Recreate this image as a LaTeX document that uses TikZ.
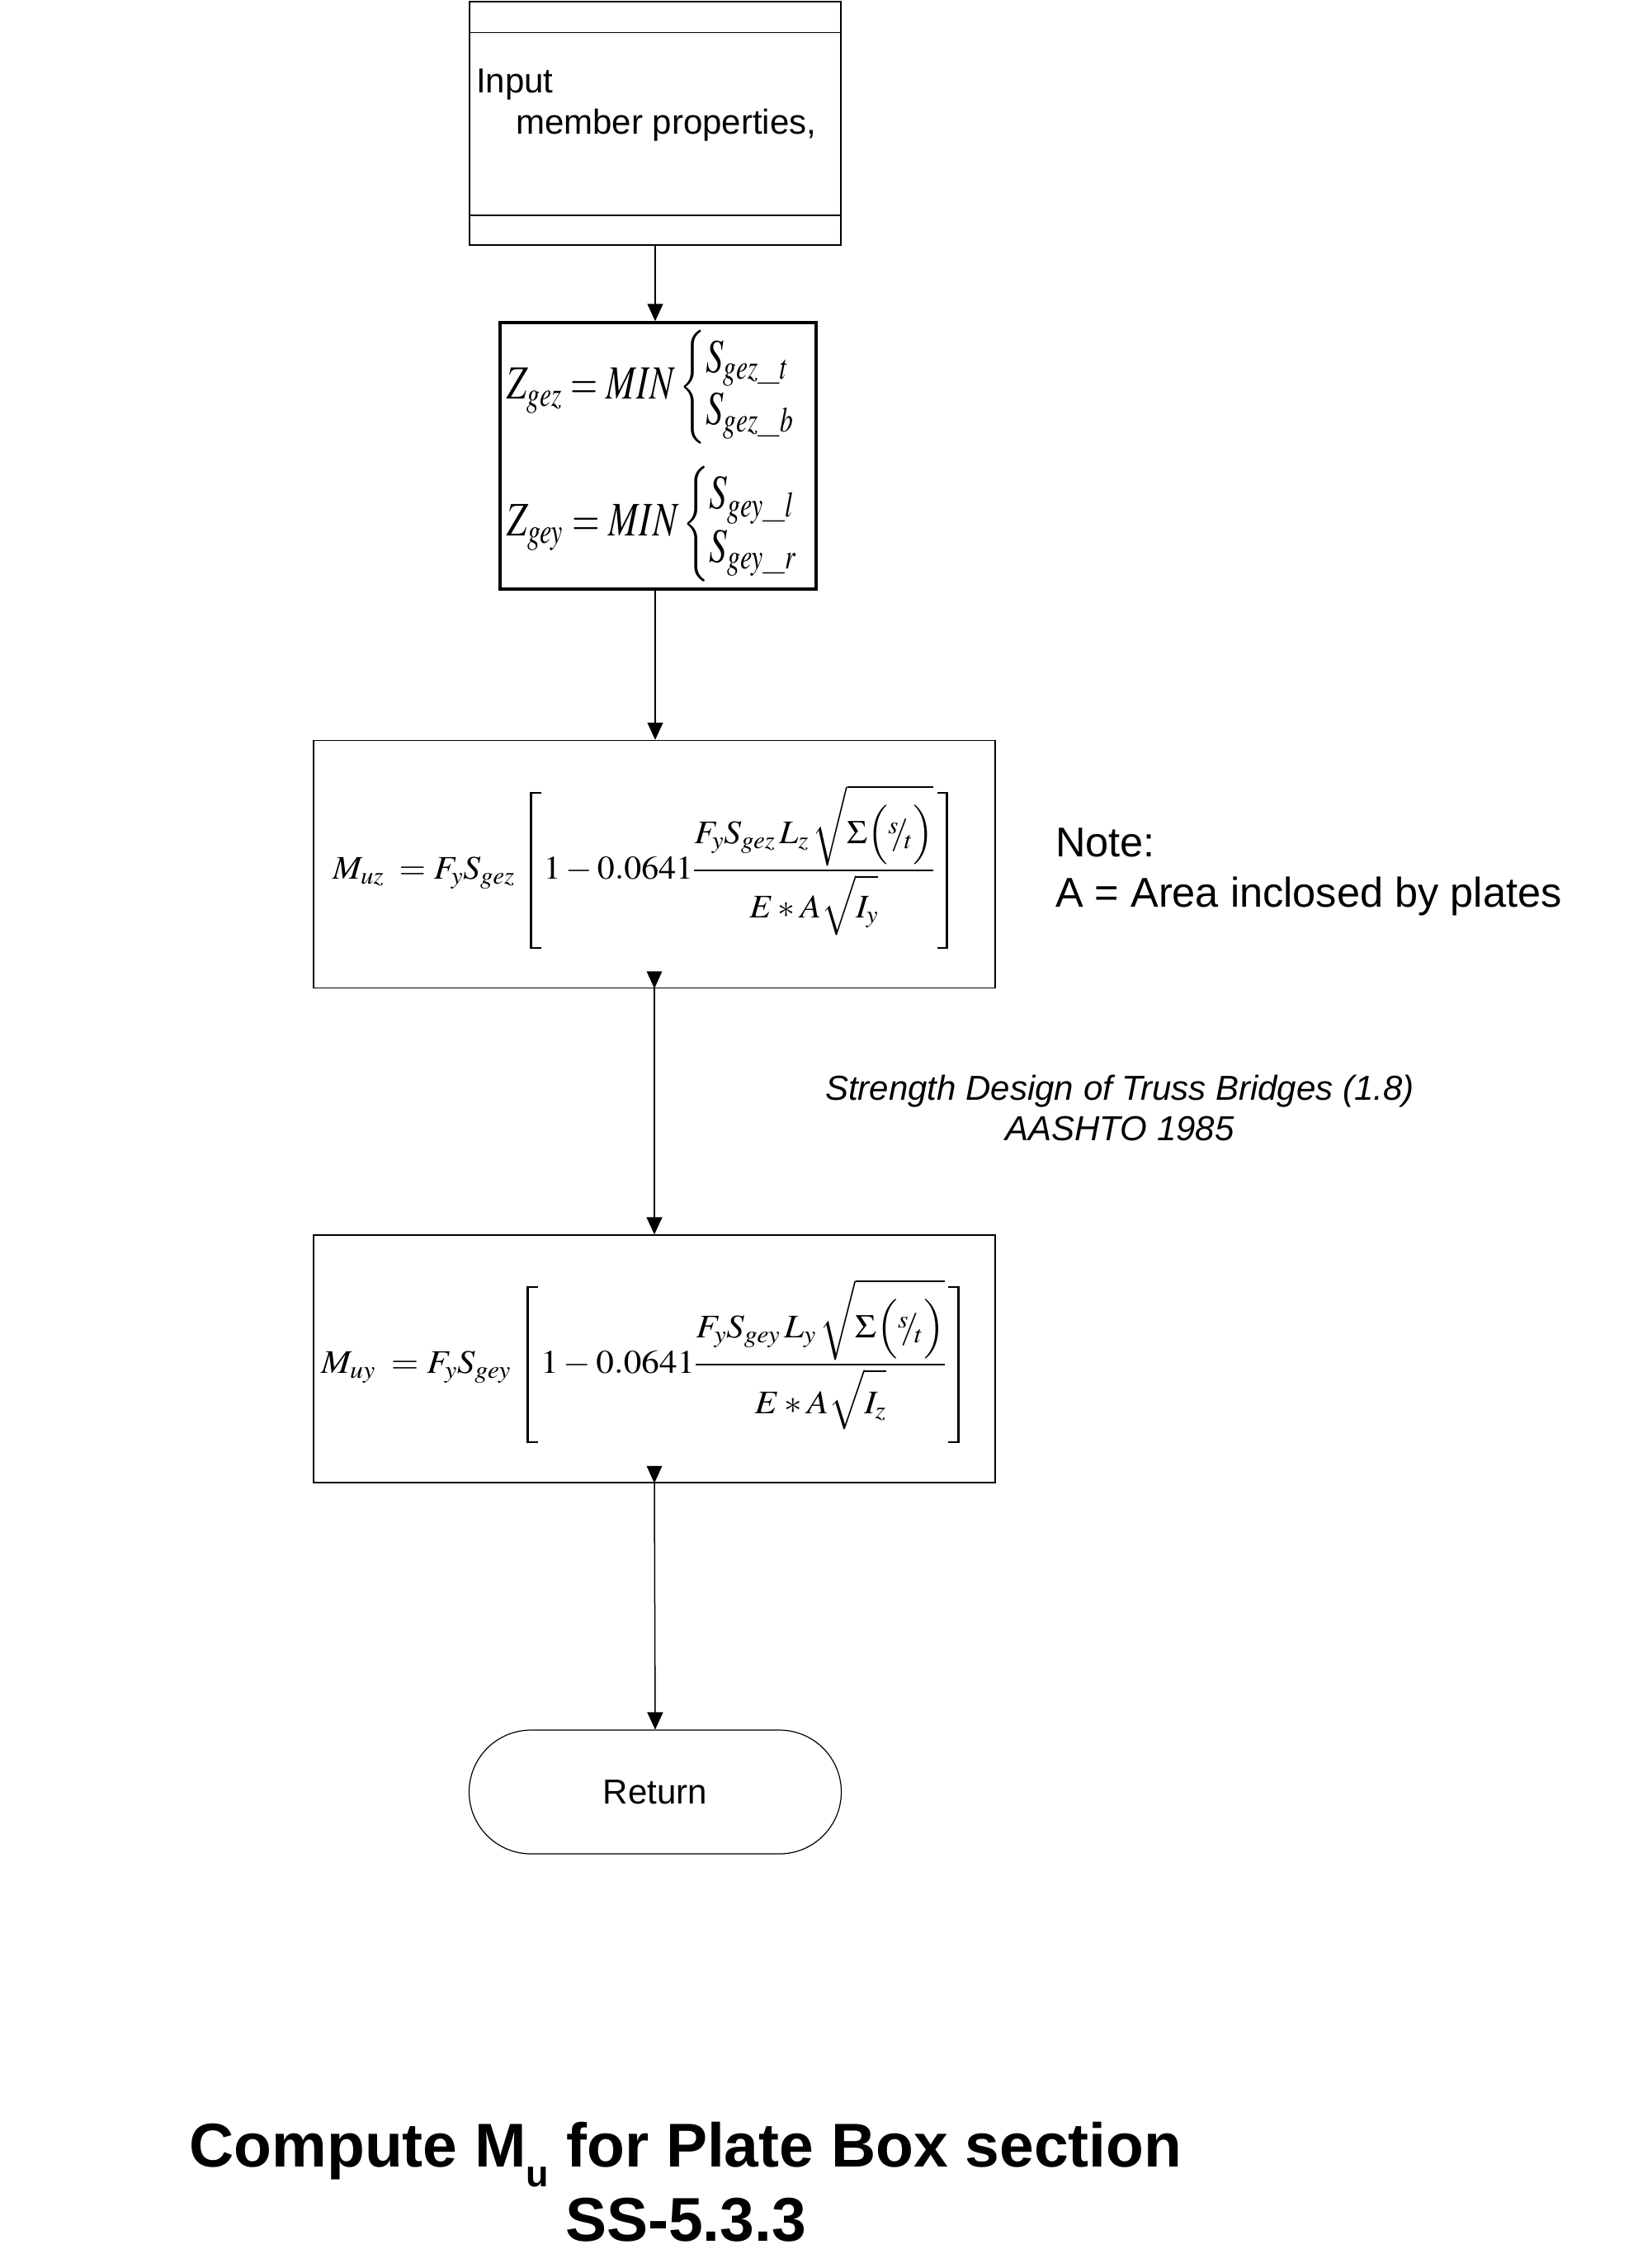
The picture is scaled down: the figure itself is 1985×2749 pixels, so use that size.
\documentclass[tikz,border=0pt]{standalone}
\usepackage{amsmath}
\usepackage{mathptmx}
\usepackage[no-math]{fontspec}
\newfontfamily\arial{Liberation Sans}
\usetikzlibrary{arrows.meta,calc}
\tikzset{
  box/.style={draw, line width=1.5pt, inner sep=0pt},
  arr/.style={line width=1.5pt, -{Triangle[width=19pt,length=21pt]}},
  lbl/.style={font=\arial\fontsize{42}{50}\selectfont},
  eq/.style={inner sep=0pt, execute at begin node={\delimiterfactor=1000 \delimitershortfall=0pt}},
}
\newcommand{\slfrac}{{}^{s}\!\!/\!_{t}}
\newcommand{\minpair}[2]{\left\{\begin{array}{@{}l@{}}#1\\[-1pt] #2\end{array}\right.}
\newcommand{\lbrk}{\mkern6mu\mathopen{\vcenter{\hbox{\rlap{\rule{13pt}{2.6pt}}\rlap{\rule[188pt]{13pt}{2.6pt}}\rule{2.6pt}{190.6pt}}}}\mkern6mu}
\newcommand{\rbrk}{\mkern6mu\mathclose{\vcenter{\hbox{\rule{2.6pt}{190.6pt}\llap{\rule{13pt}{2.6pt}}\llap{\rule[188pt]{13pt}{2.6pt}}}}}}
\newcommand{\sumroot}{\sqrt{\Sigma\bigl(\slfrac\bigr)\rule{0pt}{1.6em}}}
\newcommand{\mformula}[4]{\fontsize{40}{48}\selectfont$\displaystyle M_{#1}\;=F_yS_{#2}\,\lbrk 1-0.0641\frac{F_yS_{#2}\,L_{#3}\,\sumroot}{E*A\sqrt{I_{#4}\rule{0pt}{0.95em}}}\rbrk$}
\begin{document}
\begin{tikzpicture}[x=1pt,y=-1pt]
\useasboundingbox (0,0) rectangle (1985,2749);
\fill[white] (0,0) rectangle (1985,2749);

% Input box
\node[box, minimum width=450pt, minimum height=295pt] (inp) at (794,149.5) {};
\draw[line width=1.5pt] ($(inp.north west)+(0,38)$) -- ($(inp.north east)+(0,38)$);
\draw[line width=1.5pt] ($(inp.south west)+(0,-37)$) -- ($(inp.south east)+(0,-37)$);
\node[lbl, anchor=base west, inner sep=0pt] (t1) at (577,112) {Input};
\node[lbl, anchor=base west, inner sep=0pt] (t2) at (625,162) {member properties,};

% Z box
\node[draw, line width=3.5pt, minimum width=383pt, minimum height=323pt] (zb) at (797.5,552.5) {};
\node[eq] (z1) at (791.5,469) {\resizebox*{353pt}{138pt}{$\displaystyle Z_{gez}=MIN\minpair{S_{gez\_t}}{S_{gez\_b}}$}};
\node[eq] (z2) at (793.5,635) {\resizebox*{357pt}{140pt}{$\displaystyle Z_{gey}=MIN\minpair{S_{gey\_l}}{S_{gey\_r}}$}};

% M_uz box
\node[box, minimum width=826pt, minimum height=300pt] (mz) at (793,1047.5) {};
\node[eq, anchor=base west] (fz) at (403,1065) {\resizebox{746pt}{\height}{\mformula{uz}{gez}{z}{y}}};

% M_uy box
\node[box, minimum width=826pt, minimum height=300pt] (my) at (793,1647) {};
\node[eq, anchor=base west] (fy) at (389,1664) {\resizebox{774pt}{\height}{\mformula{uy}{gey}{y}{z}}};

% Return
\node[draw, line width=1.2pt, rounded corners=75pt, minimum width=451pt, minimum height=150pt, lbl] (ret) at (794,2172) {Return};

% Notes
\node[anchor=base west, inner sep=0pt, font=\arial\fontsize{50.5}{60}\selectfont] (note1) at (1279,1038) {Note:};
\node[anchor=base west, inner sep=0pt, font=\arial\fontsize{50.5}{60}\selectfont] (note2) at (1279,1099) {A = Area inclosed by plates};
\node[anchor=base, inner sep=0pt, font=\arial\itshape\fontsize{42}{49}\selectfont] (ref1) at (1357,1333) {Strength Design of Truss Bridges (1.8)};
\node[anchor=base, inner sep=0pt, font=\arial\itshape\fontsize{42}{49}\selectfont] (ref2) at (1357,1382) {AASHTO 1985};

% Title
\node[anchor=base, inner sep=0pt, font=\arial\bfseries\fontsize{75}{90}\selectfont] (title1) at (831,2626) {Compute M\raisebox{-24pt}{\fontsize{45}{45}\selectfont u} for Plate Box section};
\node[anchor=base, inner sep=0pt, font=\arial\bfseries\fontsize{75}{90}\selectfont] (title2) at (831,2716) {SS-5.3.3};

% Connectors
\draw[arr] (inp.south) -- (inp.south |- zb.north);
\draw[arr] (inp.south |- zb.south) -- (inp.south |- mz.north);
\draw[arr] (mz.south) -- (my.north);
\draw[arr] (my.south) -- (ret.north);
\fill ($(mz.south)+(-9.5,-21)$) -- (mz.south) -- ($(mz.south)+(9.5,-21)$) -- cycle;
\fill ($(my.south)+(-9.5,-21)$) -- (my.south) -- ($(my.south)+(9.5,-21)$) -- cycle;
\end{tikzpicture}
\end{document}
